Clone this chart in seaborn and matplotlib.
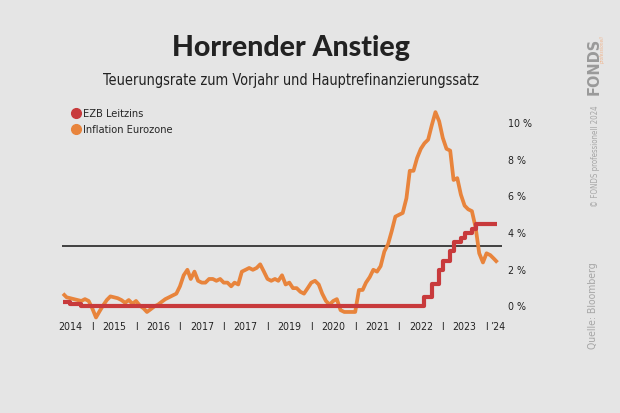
import numpy as np
import pandas as pd
import matplotlib.pyplot as plt
from matplotlib import font_manager as fm
from matplotlib.lines import Line2D
import seaborn as sns

# Inflation Eurozone (Vorjahr, %) monatlich ab April 2014
infl_2014 = [0.7, 0.5, 0.45, 0.4, 0.35, 0.3, 0.4, 0.3, -0.1]
infl_2015 = [-0.6, -0.25, 0.05, 0.35, 0.55, 0.5, 0.45, 0.35, 0.2, 0.35, 0.15, 0.3]
infl_2016 = [0.05, -0.1, -0.3, -0.15, 0.0, 0.1, 0.25, 0.4, 0.5, 0.6, 0.7, 1.1]
infl_2017 = [1.7, 2.0, 1.5, 1.9, 1.4, 1.3, 1.3, 1.5, 1.5, 1.4, 1.5, 1.3]
infl_2018 = [1.3, 1.1, 1.3, 1.2, 1.9, 2.0, 2.1, 2.0, 2.1, 2.3, 1.9, 1.5]
infl_2019 = [1.4, 1.5, 1.4, 1.7, 1.2, 1.3, 1.0, 1.0, 0.8, 0.7, 1.0, 1.3]
infl_2020 = [1.4, 1.2, 0.7, 0.3, 0.1, 0.3, 0.4, -0.2, -0.3, -0.3, -0.3, -0.3]
infl_2021 = [0.9, 0.9, 1.3, 1.6, 2.0, 1.9, 2.2, 3.0, 3.4, 4.1, 4.9, 5.0]
infl_2022 = [5.1, 5.9, 7.4, 7.4, 8.1, 8.6, 8.9, 9.1, 9.9, 10.6, 10.1, 9.2]
infl_2023 = [8.6, 8.5, 6.9, 7.0, 6.1, 5.5, 5.3, 5.2, 4.3, 2.9, 2.4, 2.9]
infl_2024 = [2.8, 2.6, 2.4]

# EZB Hauptrefinanzierungssatz: Monat der Änderung und neuer Satz
ezb_months = ['2014-04', '2014-06', '2014-09', '2016-03', '2022-07', '2022-09',
              '2022-11', '2022-12', '2023-02', '2023-03', '2023-05', '2023-06',
              '2023-08', '2023-09', '2024-03']
ezb_rates = [0.25, 0.15, 0.05, 0.0, 0.5, 1.25, 2.0, 2.5, 3.0, 3.5, 3.75, 4.0,
             4.25, 4.5, 4.5]

ref_level = 3.3  # schwarze Linie

year_labels = ['2014', '2015', '2016', '2017', '2017', '2019', '2020', '2021', '2022', '2023']
y_ticks = [0, 2, 4, 6, 8, 10]

inflation = (infl_2014 + infl_2015 + infl_2016 + infl_2017 + infl_2018 + infl_2019
             + infl_2020 + infl_2021 + infl_2022 + infl_2023 + infl_2024)
df_infl = pd.DataFrame({'Datum': pd.date_range('2014-04-01', periods=len(inflation), freq='MS'),
                        'Wert': inflation})
df_ezb = pd.DataFrame({'Datum': pd.to_datetime(ezb_months), 'Wert': ezb_rates})

# Farben
bg = '#e5e5e5'
orange = '#e8843c'
red = '#c83a3c'
txt = '#222222'
grey = '#a6a6a6'

sns.set_theme(style='white', rc={'figure.facecolor': bg, 'axes.facecolor': bg})


# schmale Schrift suchen (falls vorhanden)
def has_font(**kw):
    try:
        return fm.findfont(fm.FontProperties(**kw), fallback_to_default=False)
    except Exception:
        return None


narrow_family = ['Roboto', 'DejaVu Sans']
stretch = 'normal'
if has_font(family='Liberation Sans Narrow'):
    narrow_family = ['Liberation Sans Narrow', 'DejaVu Sans']
else:
    f = has_font(family='DejaVu Sans', stretch='condensed')
    if f and 'Condensed' in f:
        narrow_family = ['DejaVu Sans', 'Roboto']
        stretch = 'condensed'
plt.rcParams['font.family'] = narrow_family
plt.rcParams['font.stretch'] = stretch

fig = plt.figure(figsize=(6.2, 4.13), dpi=100)
W, H = 620, 413
# Plotbereich: Jan 2014 .. Jun 2024, -1 .. 11 %
ax = fig.add_axes([52.2 / W, (H - 324.8) / H, (508.5 - 52.2) / W, 220 / H])

sns.lineplot(data=df_infl, x='Datum', y='Wert', ax=ax, color=orange, lw=2.7,
             solid_capstyle='butt', zorder=3)
sns.lineplot(data=df_ezb, x='Datum', y='Wert', ax=ax, color=red, lw=3.0,
             drawstyle='steps-post', solid_capstyle='butt', zorder=4)
ax.hlines(ref_level, pd.Timestamp('2014-03-20'), pd.Timestamp('2024-04-05'),
          color='#333333', lw=1.3, zorder=2)

ax.set_xlim(pd.Timestamp('2014-01-01'), pd.Timestamp('2024-06-01'))
ax.set_ylim(-1, 11)
sns.despine(ax=ax, left=True, bottom=True)
ax.set_xlabel('')
ax.set_ylabel('')

renderer = fig.canvas.get_renderer()


def fit(t, target, dim='width'):
    # Schriftgröße so wählen, dass die Ausdehnung der Vorlage entspricht
    bb = t.get_window_extent(renderer)
    cur = bb.width if dim == 'width' else bb.height
    t.set_fontsize(t.get_fontsize() * target / cur)
    return t


def size_for(s, target, **kw):
    t = fig.text(0.5, 0.5, s, fontsize=10, **kw)
    fs = fit(t, target).get_fontsize()
    t.remove()
    return fs


tick_size = size_for('2014', 24)
leg_size = size_for('Inflation Eurozone', 90)

# y-Achse rechts
ax.yaxis.tick_right()
ax.set_yticks(y_ticks)
ax.set_yticklabels([f'{v} %' for v in y_ticks], color=txt)
ax.tick_params(axis='y', length=0, pad=0, labelsize=tick_size)
ax.set_xticks([])

# x-Beschriftung: Jahre und Trennstriche
xt = ax.get_xaxis_transform()
for i, lab in enumerate(year_labels):
    yr = 2014 + i
    ax.text(pd.Timestamp(f'{yr}-06-01'), -0.008, lab, transform=xt, ha='center',
            va='center', fontsize=tick_size, color=txt)
    ax.text(pd.Timestamp(f'{yr}-12-01'), -0.008, 'I', transform=xt, ha='center',
            va='center', fontsize=tick_size, color=txt)
ax.text(pd.Timestamp('2024-03-05'), -0.008, '’24', transform=xt, ha='center',
        va='center', fontsize=tick_size, color=txt)

# Legende
handles = [Line2D([], [], ls='', marker='o', ms=7, color=red),
           Line2D([], [], ls='', marker='o', ms=7, color=orange)]
fig.legend(handles, ['EZB Leitzins', 'Inflation Eurozone'], loc='upper left',
           bbox_to_anchor=(66 / W, 1 - 103 / H), frameon=False, fontsize=leg_size,
           handletextpad=0.25, labelspacing=0.6, handlelength=0.8, borderpad=0)

# Titel
fit(fig.text(291 / W, 1 - 48 / H, 'Horrender Anstieg', ha='center', va='center',
             fontsize=20, fontweight='black', family=['Lato', 'DejaVu Sans'],
             stretch='normal', color=txt), 238)
fit(fig.text(291 / W, 1 - 81 / H, 'Teuerungsrate zum Vorjahr und Hauptrefinanzierungssatz',
             ha='center', va='center', fontsize=12, color=txt), 377)

# Rand rechts
fit(fig.text(594 / W, 1 - 66 / H, 'FONDS', rotation=90, ha='center', va='center',
             fontsize=12, fontweight='bold', color='#9a9a9a'), 57, 'height')
fig.text(603 / W, 1 - 50 / H, 'professionell', rotation=90, ha='center', va='center',
         fontsize=3.5, style='italic', color='#f0b48c')
fit(fig.text(595 / W, 1 - 156 / H, '© FONDS professionell 2024', rotation=90,
             ha='center', va='center', fontsize=7, color=grey), 102, 'height')
fit(fig.text(593 / W, 1 - 306 / H, 'Quelle: Bloomberg', rotation=90,
             ha='center', va='center', fontsize=7, color=grey), 87, 'height')

fig.savefig('out.png', dpi=100, facecolor=bg)
